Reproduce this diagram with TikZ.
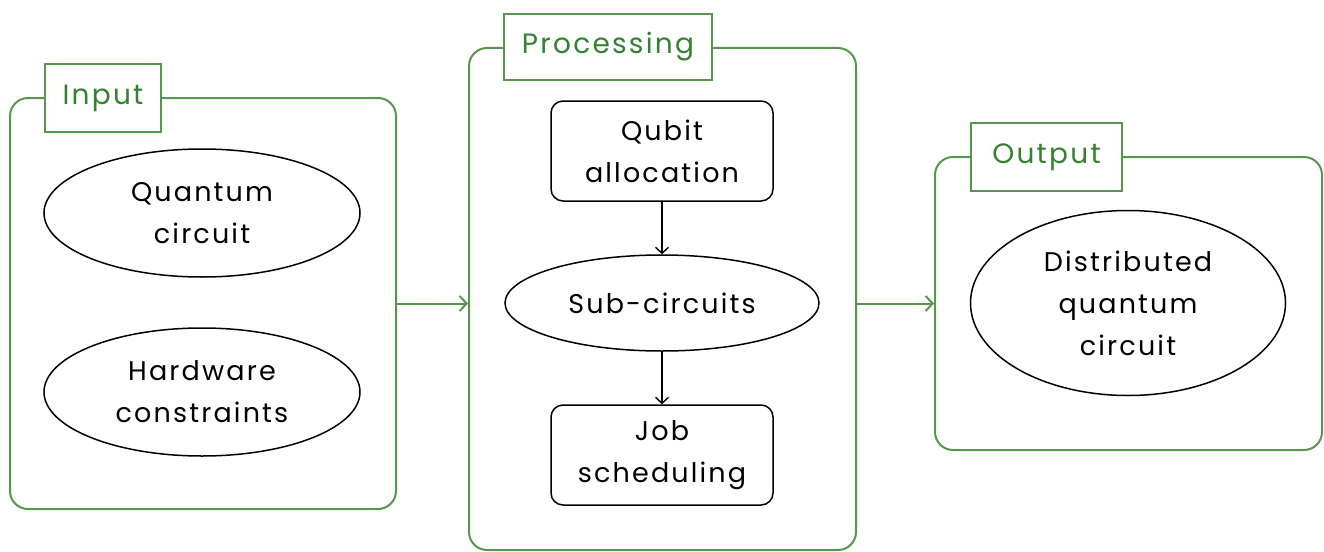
\documentclass[tikz,border=0pt]{standalone}
\usepackage{fontspec}
\setmainfont{Poppins}[LetterSpace=8]
\usetikzlibrary{shapes.geometric,arrows.meta}
\definecolor{grline}{RGB}{88,150,78}
\definecolor{grtext}{RGB}{52,130,48}
\tikzset{
  txt/.style={font=\fontsize{27}{42}\selectfont, align=center, text=black},
  container/.style={draw=grline, line width=2pt, rounded corners=18pt, inner sep=0pt},
  tag/.style={draw=grline, line width=2pt, fill=white, inner sep=0pt, text=grtext, font=\fontsize{28}{30}\selectfont},
  oval/.style={ellipse, draw=black, line width=1.5pt, inner sep=0pt, txt},
  procbox/.style={draw=black, line width=1.5pt, rounded corners=12pt, inner sep=0pt, txt},
  garrow/.style={draw=grline, line width=2pt, -{Straight Barb[length=7pt,width=15pt,line width=2pt]}},
  barrow/.style={draw=black, line width=1.4pt, -{Straight Barb[length=6pt,width=13pt,line width=1.4pt]}}
}
\begin{document}
\begin{tikzpicture}[x=1pt,y=-1pt]
\useasboundingbox (0,0) rectangle (1324,551);
% containers
\node[container, minimum width=386pt, minimum height=411pt] (inp) at (203,303.5) {};
\node[container, minimum width=387pt, minimum height=502pt] (proc) at (662.5,299) {};
\node[container, minimum width=387pt, minimum height=293pt] (out) at (1128.5,303.5) {};
% tags
\node[tag, minimum width=116pt, minimum height=68pt] (tin) at (103,98) {Input};
\node[tag, minimum width=208pt, minimum height=66pt] (tproc) at (608,47) {Processing};
\node[tag, minimum width=151pt, minimum height=68pt] (tout) at (1046.5,157) {Output};
% input ellipses
\node[oval, minimum width=316pt, minimum height=128pt] (qc) at (202,213) {Quantum\\circuit};
\node[oval, minimum width=316pt, minimum height=128pt] (hw) at (202,392) {Hardware\\constraints};
% processing
\node[procbox, minimum width=222pt, minimum height=100pt] (qa) at (662,151) {Qubit\\allocation};
\node[oval, minimum width=314pt, minimum height=96pt] (sc) at (662,303) {Sub-circuits};
\node[procbox, minimum width=222pt, minimum height=100pt] (js) at (662,455) {Job\\scheduling};
% output
\node[oval, minimum width=315pt, minimum height=185pt] (dq) at (1128,303) {Distributed\\quantum\\circuit};
% arrows
\draw[barrow] (qa.south) -- (sc.north);
\draw[barrow] (sc.south) -- (js.north);
\draw[garrow] (inp.east) -- (inp.east -| proc.west);
\draw[garrow] (proc.east |- out.west) -- (out.west);
\end{tikzpicture}
\end{document}
